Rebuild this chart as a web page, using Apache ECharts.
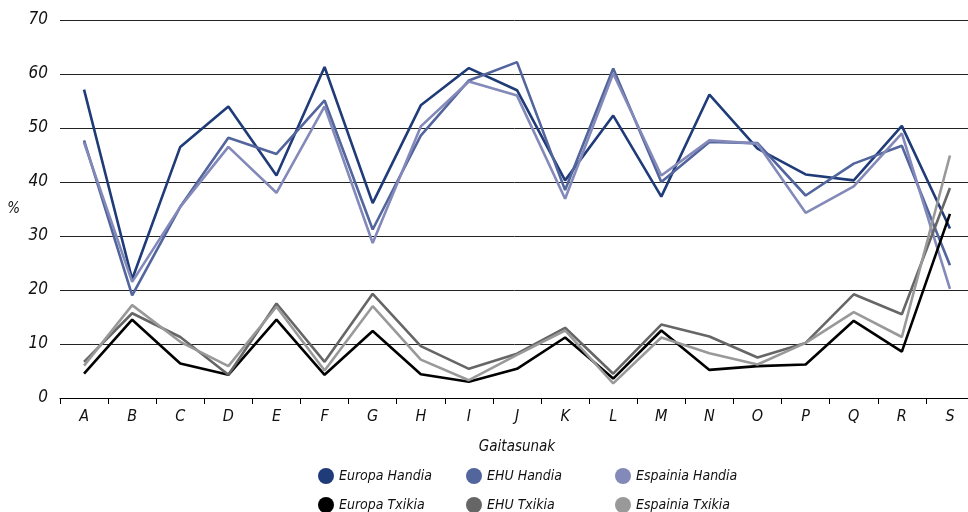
<!DOCTYPE html>
<html>
<head>
<meta charset="utf-8">
<script src="https://cdn.jsdelivr.net/npm/echarts@6/dist/echarts.min.js"></script>
<style>
html,body{margin:0;padding:0;background:#fff;}
#c{width:968px;height:512px;}
</style>
</head>
<body>
<div id="c"></div>
<script>
const categories = ['A','B','C','D','E','F','G','H','I','J','K','L','M','N','O','P','Q','R','S'];
const europaHandia   = [57.1,22.0,46.5,54.0,41.2,61.3,36.1,54.2,61.1,57.0,40.3,52.3,37.3,56.2,46.2,41.4,40.3,50.4,31.4];
const ehuHandia      = [47.7,19.0,35.4,48.2,45.2,55.1,31.2,48.6,58.8,62.2,38.5,61.0,40.0,47.4,47.2,37.5,43.4,46.7,24.6];
const espainiaHandia = [47.3,21.5,35.4,46.5,38.0,54.0,28.7,50.3,58.6,56.0,36.9,60.1,41.2,47.7,47.1,34.3,39.2,49.0,20.2];
const europaTxikia   = [4.5,14.5,6.4,4.3,14.5,4.3,12.4,4.4,3.0,5.4,11.2,3.6,12.5,5.2,5.9,6.2,14.3,8.6,34.1];
const ehuTxikia      = [6.7,15.7,11.3,4.3,17.5,6.7,19.3,9.6,5.4,8.2,13.0,4.5,13.6,11.4,7.5,10.2,19.2,15.5,38.9];
const espainiaTxikia = [6.0,17.2,10.4,5.9,16.9,5.1,17.0,7.1,3.3,8.0,12.5,2.7,11.2,8.3,6.2,10.2,15.9,11.3,44.9];
const seriesNames = ['Europa Handia','EHU Handia','Espainia Handia','Europa Txikia','EHU Txikia','Espainia Txikia'];
const seriesData = [europaHandia, ehuHandia, espainiaHandia, europaTxikia, ehuTxikia, espainiaTxikia];
const colors = ['#1f3b78','#52659c','#8389b8','#000000','#666666','#999999'];

const FONT = '"Liberation Sans Narrow", "DejaVu Sans Condensed", sans-serif';
const chart = echarts.init(document.getElementById('c'));

const legendPos = [
  {left: 318, top: 468}, {left: 466, top: 468}, {left: 615, top: 468},
  {left: 318, top: 497}, {left: 466, top: 497}, {left: 615, top: 497}
];

chart.setOption({
  animation: false,
  color: colors,
  grid: {left: 60, width: 914, top: 20, bottom: 114, containLabel: false, outerBoundsMode: 'none'},
  legend: seriesNames.map((n, i) => ({
    data: [n], left: legendPos[i].left, top: legendPos[i].top,
    icon: 'circle', itemWidth: 16, itemHeight: 16, itemGap: 8, padding: 0,
    textStyle: {fontFamily: FONT, fontStyle: 'italic', fontSize: 14, color: '#111'}
  })),
  xAxis: {
    type: 'category', data: categories, boundaryGap: true,
    name: 'Gaitasunak', nameLocation: 'middle', nameGap: 42,
    nameTextStyle: {fontFamily: FONT, fontStyle: 'italic', fontSize: 15, color: '#111'},
    axisLine: {lineStyle: {color: '#000', width: 1}},
    axisTick: {show: true, length: 6, lineStyle: {color: '#000'}},
    axisLabel: {fontFamily: FONT, fontStyle: 'italic', fontSize: 16, color: '#111', margin: 11}
  },
  yAxis: {
    type: 'value', min: 0, max: 70, interval: 10,
    name: '%', nameLocation: 'middle', nameGap: 40, nameRotate: 0,
    nameTextStyle: {fontFamily: FONT, fontStyle: 'italic', fontSize: 15, color: '#111'},
    axisLine: {show: false}, axisTick: {show: false},
    axisLabel: {fontFamily: FONT, fontStyle: 'italic', fontSize: 17, color: '#111', margin: 12},
    splitLine: {lineStyle: {color: '#222', width: 1}}
  },
  series: seriesNames.map((n, i) => ({
    name: n, type: 'line', data: seriesData[i],
    symbol: 'none', lineStyle: {width: 2.6, color: colors[i]},
    itemStyle: {color: colors[i]}
  }))
});
</script>
</body>
</html>
